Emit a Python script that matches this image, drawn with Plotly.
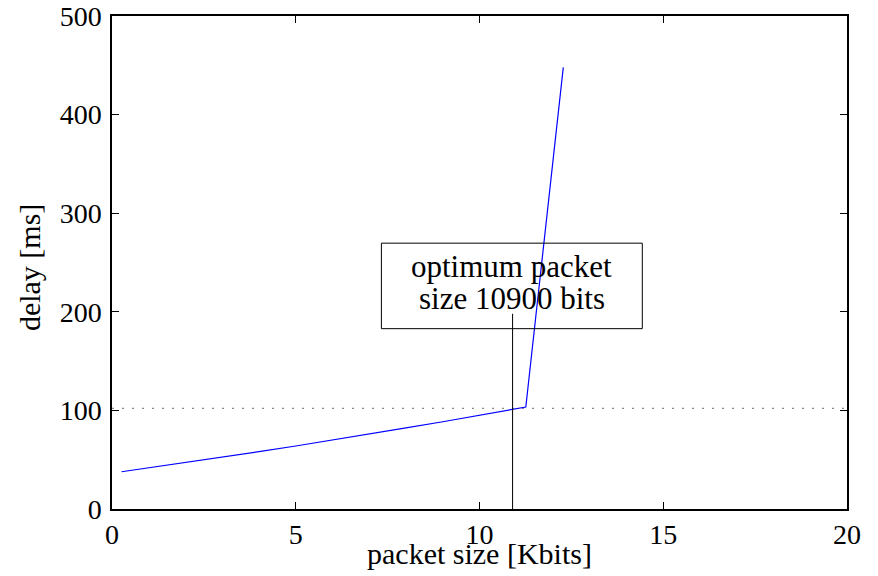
import plotly.graph_objects as go

# data
packet_kbits = [0.26, 1, 2, 3, 4, 5, 6, 7, 8, 9, 10, 10.85, 11.26, 12.28]
delay_ms = [37.8, 41.7, 47.0, 52.5, 58.1, 63.9, 69.8, 75.9, 82.2, 88.5, 95.1, 100.7, 103.4, 447.9]
limit_delay = 102
optimum_kbits = 10.9
x_ticks = [0, 5, 10, 15, 20]
y_ticks = [0, 100, 200, 300, 400, 500]
note_lines = ["optimum packet", "size 10900 bits"]

FONT = "Liberation Serif, Times New Roman, serif"

fig = go.Figure()
fig.add_trace(go.Scatter(x=[0, 20], y=[limit_delay, limit_delay], mode="lines",
                         line=dict(color="#8a8a8a", width=1.3, dash="2px,8px"),
                         showlegend=False, hoverinfo="skip"))
fig.add_trace(go.Scatter(x=packet_kbits, y=delay_ms, mode="lines",
                         line=dict(color="#0000ff", width=1.2), showlegend=False))
fig.add_trace(go.Scatter(x=[optimum_kbits, optimum_kbits], y=[0, 198], mode="lines",
                         line=dict(color="black", width=1), showlegend=False, hoverinfo="skip"))

fig.add_shape(type="rect", x0=7.33, x1=14.43, y0=182.9, y1=269.6,
              line=dict(color="black", width=1), fillcolor="rgba(0,0,0,0)", layer="above")
for txt, yy in zip(note_lines, [246, 214]):
    fig.add_annotation(x=10.88, y=yy, text=txt, showarrow=False,
                       font=dict(family=FONT, size=31, color="black"), align="center")

# axis titles placed as paper annotations
fig.add_annotation(xref="paper", yref="paper", x=0.5, y=-0.09, yanchor="middle",
                   text="packet size [Kbits]", showarrow=False,
                   font=dict(family=FONT, size=30, color="black"))
fig.add_annotation(xref="paper", yref="paper", x=-0.112, xanchor="center", y=0.49, yanchor="middle",
                   text="delay [ms]", textangle=-90, showarrow=False,
                   font=dict(family=FONT, size=30, color="black"))

axis_common = dict(showline=True, linecolor="black", linewidth=1.5, mirror="ticks",
                   ticks="inside", ticklen=7, tickcolor="black", tickwidth=1,
                   showgrid=False, zeroline=False, ticklabeloverflow="allow",
                   tickfont=dict(family=FONT, size=28, color="black"))
fig.update_xaxes(range=[0, 20], tickvals=x_ticks, ticktext=[str(v) for v in x_ticks], **axis_common)
fig.update_yaxes(range=[0, 500], tickvals=y_ticks, ticktext=[str(v) for v in y_ticks],
                 ticklabelstandoff=3, **axis_common)
fig.update_layout(width=878, height=576, margin=dict(l=112, r=31, t=16, b=67, autoexpand=False),
                  plot_bgcolor="white", paper_bgcolor="white")
fig.write_html("out.html", config={"displayModeBar": False},
               post_script="document.body.style.margin='0';")
